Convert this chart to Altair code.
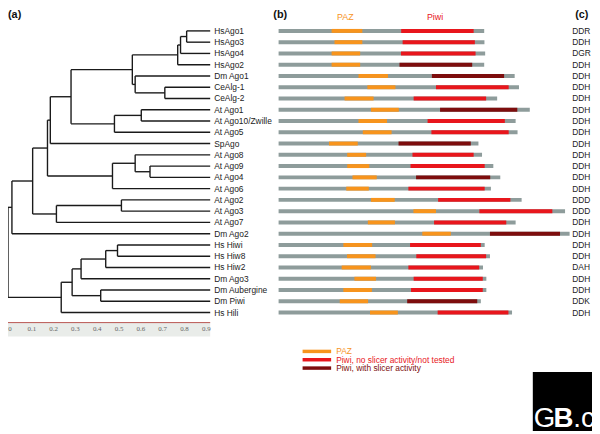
import altair as alt
import pandas as pd

# ---------------- data ----------------
names = ["HsAgo1", "HsAgo3", "HsAgo4", "HsAgo2", "Dm Ago1", "CeAlg-1", "CeAlg-2",
         "At Ago1", "At Ago10/Zwille", "At Ago5", "SpAgo", "At Ago8", "At Ago9",
         "At Ago4", "At Ago6", "At Ago2", "At Ago3", "At Ago7", "Dm Ago2", "Hs Hiwi",
         "Hs Hiw8", "Hs Hiw2", "Dm Ago3", "Dm Aubergine", "Dm Piwi", "Hs Hili"]
triads = ["DDR", "DDH", "DGR", "DDH", "DDH", "DDH", "DDH", "DDH", "DDH", "DDH", "DDH",
          "DDH", "DDH", "DDH", "DDH", "DDD", "DDD", "DDH", "DDH", "DDH", "DDH", "DAH",
          "DDH", "DDH", "DDK", "DDH"]
lengths = [857, 858, 861, 857, 984, 1002, 911, 1047, 988, 996, 833, 848, 895, 924, 885,
           1013, 1194, 988, 1213, 859, 881, 852, 866, 866, 843, 973]
paz_start = [221, 233, 221, 221, 333, 370, 275, 385, 333, 351, 210, 286, 286, 308, 282,
             385, 562, 372, 599, 270, 285, 263, 316, 270, 255, 381]
paz_end = [349, 349, 340, 340, 456, 487, 396, 501, 452, 471, 330, 365, 378, 409, 376,
           484, 656, 485, 718, 390, 404, 385, 406, 389, 373, 497]
piwi_start = [511, 517, 510, 504, 639, 656, 563, 673, 621, 637, 500, 558, 550, 573, 541,
              665, 837, 648, 881, 548, 574, 541, 563, 552, 536, 663]
piwi_end = [813, 818, 821, 807, 940, 959, 865, 995, 943, 959, 801, 813, 859, 882, 859,
            966, 1141, 949, 1173, 843, 865, 836, 851, 851, 828, 958]
slicer = [0, 0, 0, 1, 1, 0, 0, 1, 0, 0, 1, 0, 0, 1, 0, 0, 0, 0, 1, 0, 0, 0, 0, 0, 1, 0]

# tree: node -> (height, [children]); int children are leaf row indices
tree_nodes = {
    "root": (0.0, ["n1", "piwi"]),
    "n1": (0.018, ["n2", 18]),
    "n2": (0.113, ["n3", "at237"]),
    "n3": (0.181, ["n4", "at8g"]),
    "n4": (0.194, ["n5", 10]),
    "n5": (0.289, ["ago_an", "at15"]),
    "ago_an": (0.570, ["hs", "dm1ce"]),
    "hs": (0.778, ["hs134", 3]),
    "hs134": (0.791, ["hs13", 2]),
    "hs13": (0.819, [0, 1]),
    "dm1ce": (0.583, [4, "ce"]),
    "ce": (0.719, [5, 6]),
    "at15": (0.488, ["at110", 9]),
    "at110": (0.611, [7, 8]),
    "at8g": (0.479, ["at894", 14]),
    "at894": (0.583, [11, "at94"]),
    "at94": (0.651, [12, 13]),
    "at237": (0.222, ["at23", 17]),
    "at23": (0.520, [15, 16]),
    "piwi": (0.244, ["pw1", 25]),
    "pw1": (0.294, ["hiwi_g", "aub_piwi"]),
    "hiwi_g": (0.335, ["hiwi3", 22]),
    "hiwi3": (0.448, ["hiwi2", 21]),
    "hiwi2": (0.502, [19, 20]),
    "aub_piwi": (0.425, [23, 24]),
}
leaf_height = 0.927
tick_values = [0, 0.1, 0.2, 0.3, 0.4, 0.5, 0.6, 0.7, 0.8, 0.9]
tick_labels = ["0", "0.1", "0.2", "0.3", "0.4", "0.5", "0.6", "0.7", "0.8", "0.9"]

legend_labels = ["PAZ", "Piwi, no slicer activity/not tested", "Piwi, with slicer activity"]
legend_parts = ["PAZ", "Piwi", "PiwiS"]

part_domain = ["grey", "PAZ", "Piwi", "PiwiS"]
part_colors = ["#8e9c9b", "#f7941d", "#e8161c", "#7d0d0d"]

FONT = "Liberation Sans"

# ---------------- scales ----------------
y_scale = alt.Scale(domain=[0, 25], range=[20.3, 305.8], nice=False, zero=False)
tree_scale = alt.Scale(domain=[0, 0.9], range=[0, 199], nice=False, zero=False)
aa_scale = alt.Scale(domain=[0, 1213], range=[274.3, 569.3], nice=False, zero=False)
color_scale = alt.Scale(domain=part_domain, range=part_colors)

# ---------------- tree segments ----------------
def node_info(key):
    if isinstance(key, int):
        return leaf_height, float(key)
    h, ch = tree_nodes[key]
    ys = [node_info(c)[1] for c in ch]
    return h, (ys[0] + ys[-1]) / 2.0

segs = []
for key, (h, ch) in tree_nodes.items():
    infos = [node_info(c) for c in ch]
    segs.append({"x": h, "x2": h, "y": infos[0][1], "y2": infos[-1][1]})
    for ch_h, ch_y in infos:
        segs.append({"x": h, "x2": ch_h, "y": ch_y, "y2": ch_y})
seg_df = pd.DataFrame(segs)

tree = alt.Chart(seg_df).mark_rule(color="#1a1a1a", strokeWidth=1.4).encode(
    x=alt.X("x:Q", scale=tree_scale, axis=None),
    x2="x2:Q",
    y=alt.Y("y:Q", scale=y_scale, axis=None),
    y2="y2:Q",
)

leaf_df = pd.DataFrame({"name": names, "row": list(range(len(names))),
                        "h": [leaf_height] * len(names)})
leaf_text = alt.Chart(leaf_df).mark_text(
    align="left", baseline="middle", dx=4, font=FONT, fontSize=8.5, color="#222"
).encode(
    x=alt.X("h:Q", scale=tree_scale, axis=None),
    y=alt.Y("row:Q", scale=y_scale, axis=None),
    text="name:N",
)

# tree axis (scale bar)
band_df = pd.DataFrame({"a": [0.0], "b": [leaf_height]})
band = alt.Chart(band_df).mark_rect(color="#e9ece9").encode(
    x=alt.X("a:Q", scale=tree_scale, axis=None), x2="b:Q",
    y=alt.value(316), y2=alt.value(330),
)
band_line = alt.Chart(band_df).mark_rule(color="#b85450", strokeWidth=1).encode(
    x=alt.X("a:Q", scale=tree_scale, axis=None), x2="b:Q", y=alt.value(316),
)
tick_df = pd.DataFrame({"v": tick_values, "t": tick_labels})
tick_text = alt.Chart(tick_df).mark_text(
    font="Liberation Serif", fontSize=7, color="#666", baseline="middle", align="center", dx=2
).encode(
    x=alt.X("v:Q", scale=tree_scale, axis=None), y=alt.value(323), text="t:N",
)

# ---------------- domain bars ----------------
rows = []
for i in range(len(names)):
    rows.append({"row": i, "s": 0, "e": lengths[i], "part": "grey", "o": 0})
    rows.append({"row": i, "s": paz_start[i], "e": paz_end[i], "part": "PAZ", "o": 1})
    rows.append({"row": i, "s": piwi_start[i], "e": piwi_end[i],
                 "part": "PiwiS" if slicer[i] else "Piwi", "o": 2})
bar_df = pd.DataFrame(rows)
bars = alt.Chart(bar_df).mark_rule(strokeWidth=4).encode(
    x=alt.X("s:Q", scale=aa_scale, axis=None),
    x2="e:Q",
    y=alt.Y("row:Q", scale=y_scale, axis=None),
    color=alt.Color("part:N", scale=color_scale, legend=None),
    order="o:Q",
)

# ---------------- catalytic residues ----------------
tri_df = pd.DataFrame({"t": triads, "row": list(range(len(triads)))})
tri_text = alt.Chart(tri_df).mark_text(
    align="left", baseline="middle", font=FONT, fontSize=8.5, color="#222"
).encode(
    x=alt.value(572),
    y=alt.Y("row:Q", scale=y_scale, axis=None),
    text="t:N",
)

# ---------------- headers ----------------
hdr_df = pd.DataFrame({"t": ["(a)", "(b)", "(c)"], "px": [0, 269, 575]})
headers = alt.Chart(hdr_df).mark_text(
    align="left", baseline="middle", font=FONT, fontSize=11, fontWeight="bold", color="#111"
).encode(x=alt.X("px:Q", scale=None, axis=None), y=alt.value(4), text="t:N")

dom_hdr_df = pd.DataFrame({"t": ["PAZ", "Piwi"], "c": [278, 652], "part": ["PAZ", "Piwi"]})
dom_headers = alt.Chart(dom_hdr_df).mark_text(
    align="center", baseline="middle", font=FONT, fontSize=9
).encode(
    x=alt.X("c:Q", scale=aa_scale, axis=None), y=alt.value(6), text="t:N",
    color=alt.Color("part:N", scale=color_scale, legend=None),
)

# ---------------- legend ----------------
leg_df = pd.DataFrame({
    "t": legend_labels, "part": legend_parts, "row": [28.45, 29.19, 29.93],
    "a": [100, 100, 100], "b": [219, 219, 219], "tx": [240, 240, 240],
})
leg_lines = alt.Chart(leg_df).mark_rule(strokeWidth=3.5).encode(
    x=alt.X("a:Q", scale=aa_scale, axis=None), x2="b:Q",
    y=alt.Y("row:Q", scale=y_scale, axis=None),
    color=alt.Color("part:N", scale=color_scale, legend=None),
)
leg_text = alt.Chart(leg_df).mark_text(
    align="left", baseline="middle", font=FONT, fontSize=8.5
).encode(
    x=alt.X("tx:Q", scale=aa_scale, axis=None),
    y=alt.Y("row:Q", scale=y_scale, axis=None),
    text="t:N",
    color=alt.Color("part:N", scale=color_scale, legend=None),
)

# ---------------- logo ----------------
logo_df = pd.DataFrame({"k": [0]})
logo_box = alt.Chart(logo_df).mark_rect(color="black").encode(
    x=alt.value(532), x2=alt.value(592), y=alt.value(366), y2=alt.value(426),
)
logo_g = alt.Chart(logo_df).mark_text(
    align="left", baseline="alphabetic", font=FONT, fontSize=28, color="white"
).encode(x=alt.value(533), y=alt.value(422), text=alt.value("G"))
logo_b = alt.Chart(logo_df).mark_text(
    align="left", baseline="alphabetic", font=FONT, fontSize=28, fontWeight="bold", color="white"
).encode(x=alt.value(553), y=alt.value(422), text=alt.value("B"))
logo_c = alt.Chart(logo_df).mark_text(
    align="left", baseline="alphabetic", font=FONT, fontSize=28, color="white"
).encode(x=alt.value(573), y=alt.value(422), text=alt.value(".c"))

chart = alt.layer(
    band, band_line, tick_text, tree, leaf_text, bars, tri_text, headers, dom_headers,
    leg_lines, leg_text, logo_box, logo_g, logo_b, logo_c,
).resolve_scale(x="independent", color="shared").properties(
    width=592, height=426, padding=0, autosize="none"
).configure_view(stroke=None)

chart.save("out.html", embed_options={"renderer": "svg", "actions": False})
